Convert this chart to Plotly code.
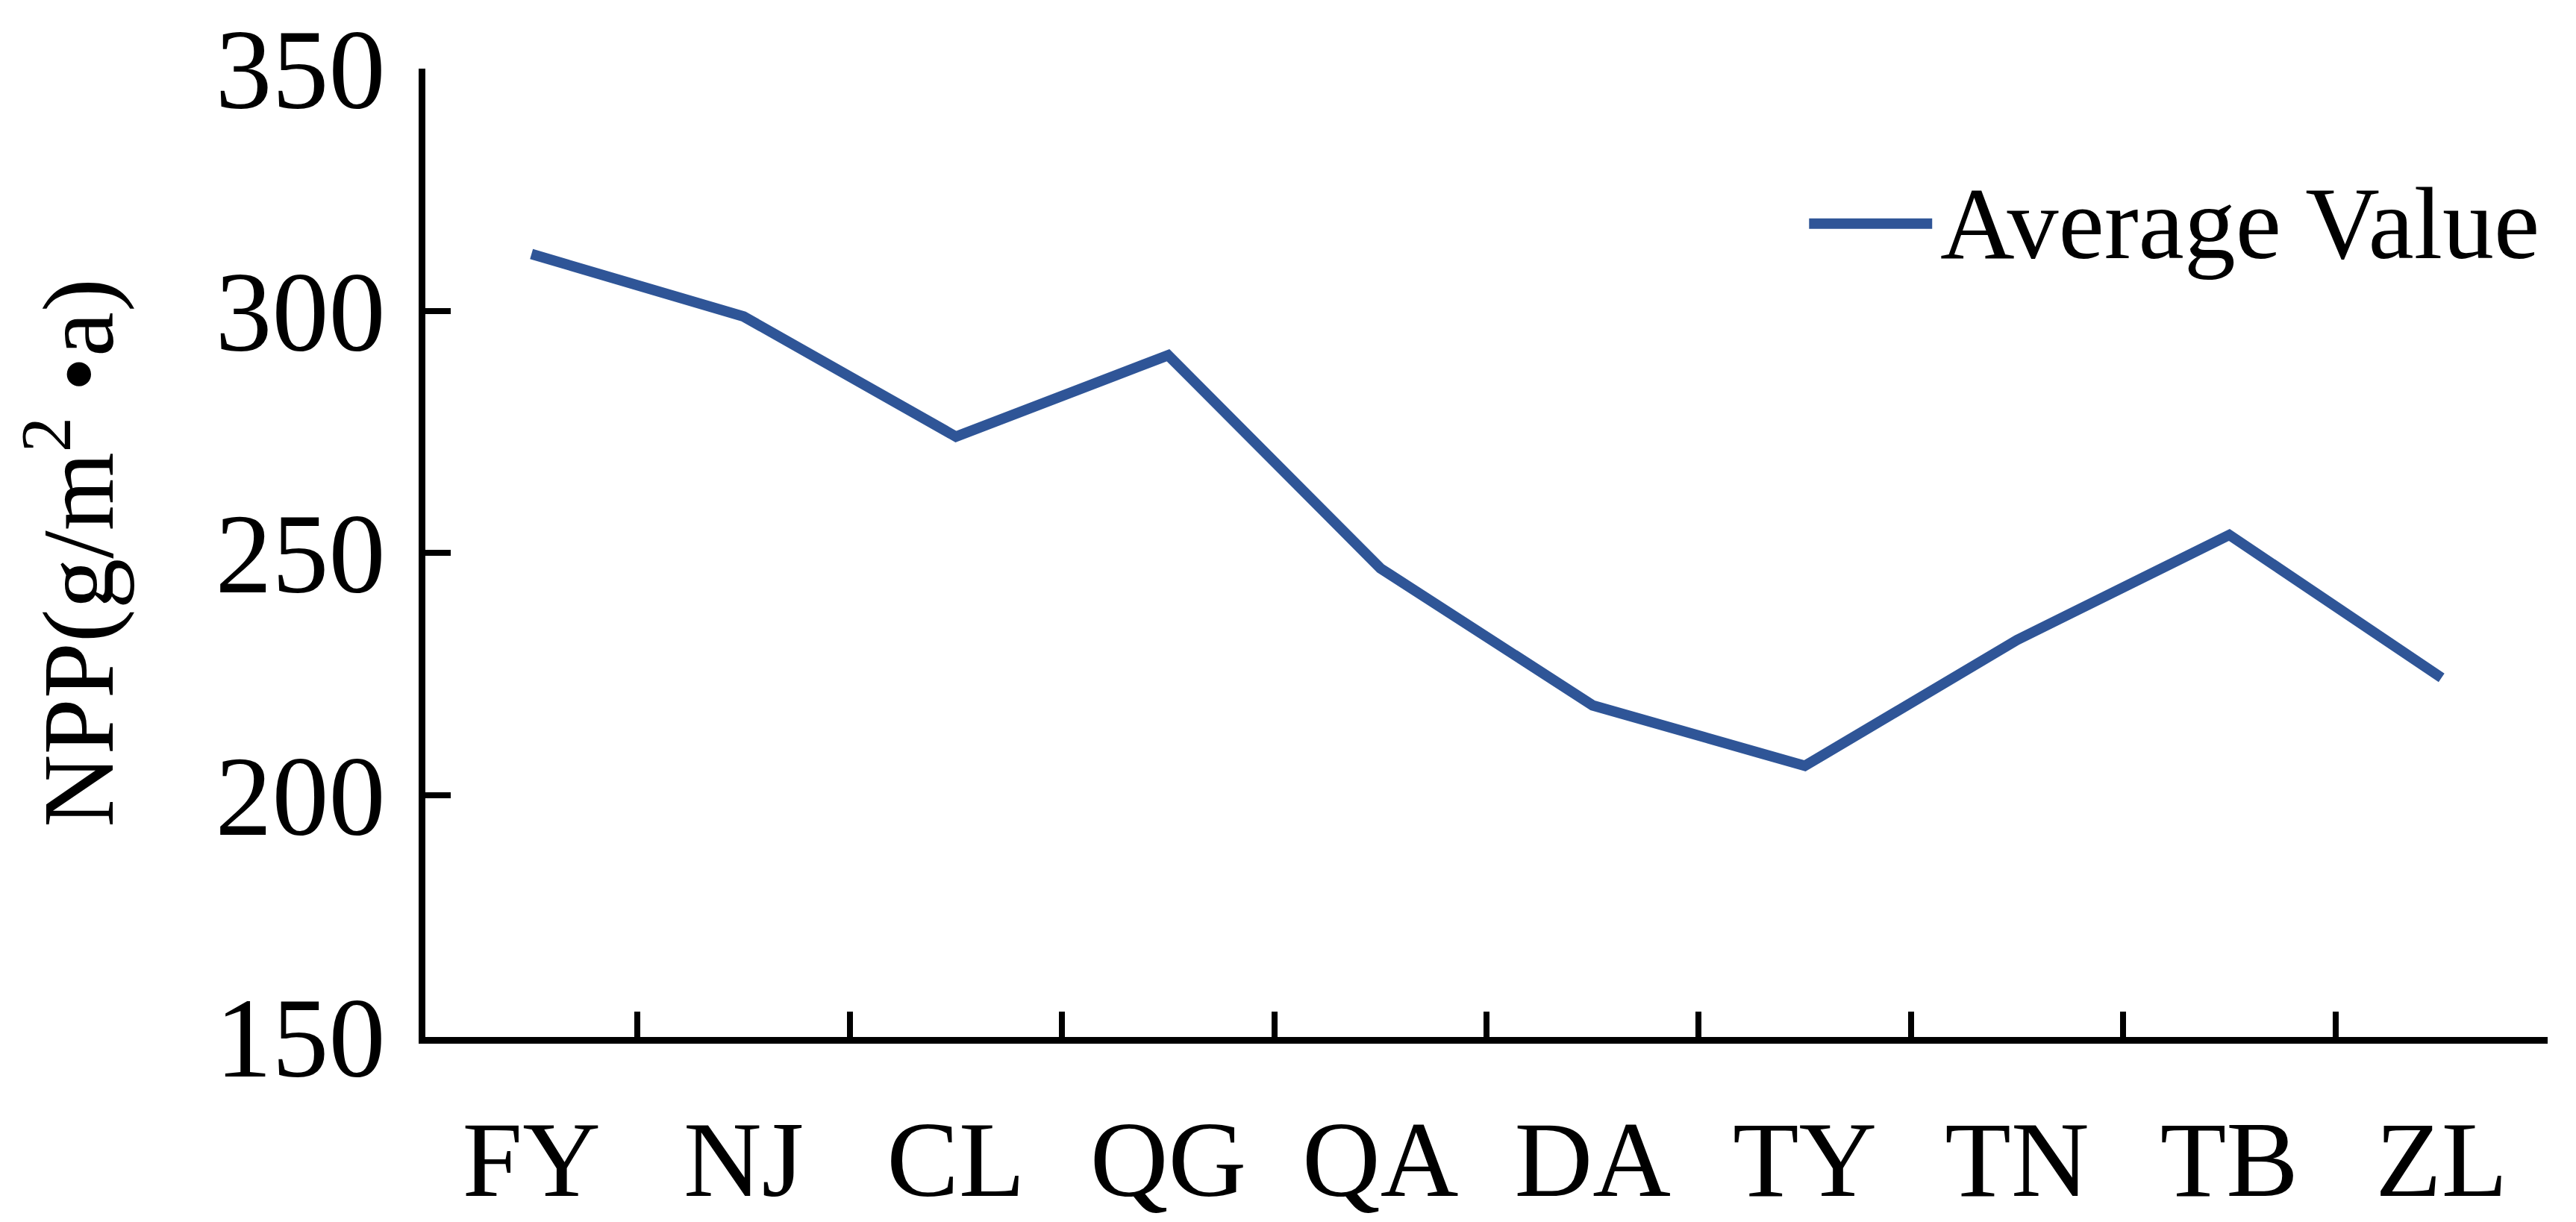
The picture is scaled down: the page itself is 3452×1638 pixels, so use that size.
import plotly.graph_objects as go

# Sites along the x axis and their average NPP values
sites = ["FY", "NJ", "CL", "QG", "QA", "DA", "TY", "TN", "TB", "ZL"]
npp_avg = [311.7, 298.8, 274.0, 290.8, 246.8, 218.5, 206.0, 232.0, 253.7, 224.2]

y_ticks = [150, 200, 250, 300, 350]

FONT = "Liberation Serif, Times New Roman, serif"
BLUE = "#2F5597"

fig = go.Figure()

fig.add_trace(go.Scatter(
    x=sites, y=npp_avg,
    mode="lines",
    name="Average Value",
    line=dict(color=BLUE, width=14),
    showlegend=False,
))

# legend drawn by hand so that the sample line is as long as in the original
fig.add_shape(type="line", xref="paper", yref="paper",
              x0=0.652, x1=0.710, y0=0.84, y1=0.84,
              line=dict(color=BLUE, width=14))
fig.add_annotation(text="Average Value", xref="paper", yref="paper",
                   x=0.713, y=0.84, xanchor="left", yanchor="middle",
                   showarrow=False, font=dict(family=FONT, size=138, color="black"))

fig.update_xaxes(
    type="category",
    range=[-0.5, 9.5],
    automargin=False,
    showline=True, linecolor="black", linewidth=9,
    ticks="inside", tickson="boundaries", ticklen=34, tickwidth=8, tickcolor="black",
    tickfont=dict(family=FONT, size=145, color="black"),
    ticklabelstandoff=30,
    showgrid=False, zeroline=False,
)
fig.update_yaxes(
    range=[150, 350],
    tickvals=y_ticks,
    automargin=False,
    showline=True, linecolor="black", linewidth=9,
    ticks="inside", ticklen=34, tickwidth=8, tickcolor="black",
    tickfont=dict(family=FONT, size=152, color="black"),
    ticklabelstandoff=14,
    showgrid=False, zeroline=False,
    title=dict(text="NPP(g/m<sup>2</sup> •a)", font=dict(family=FONT, size=135, color="black"),
               standoff=95),
)

fig.update_layout(
    width=3452, height=1638,
    margin=dict(l=562, r=46, t=84, b=256),
    plot_bgcolor="white", paper_bgcolor="white",
    font=dict(family=FONT, color="black"),
)

fig.write_html("out.html")
